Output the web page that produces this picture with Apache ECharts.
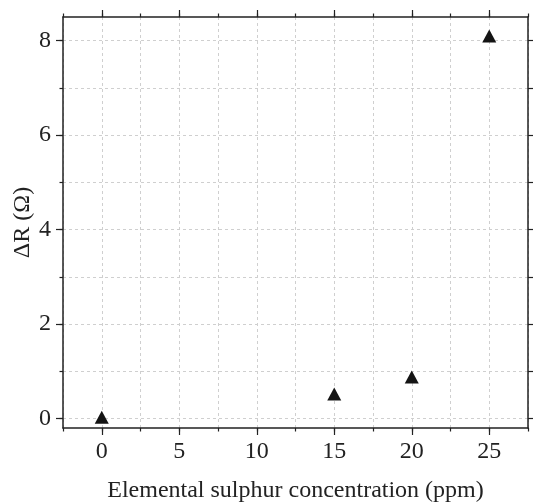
<!DOCTYPE html>
<html>
<head>
<meta charset="utf-8">
<script src="https://cdn.jsdelivr.net/npm/echarts@6/dist/echarts.min.js"></script>
<style>
  html, body { margin: 0; padding: 0; background: #fff; }
  #chart { width: 534px; height: 504px; }
</style>
</head>
<body>
<div id="chart"></div>
<script>
// data
var concentration = [0, 15, 20, 25];
var deltaR = [0.03, 0.52, 0.88, 8.1];

var xMajor = [0, 5, 10, 15, 20, 25];
var yMajor = [0, 2, 4, 6, 8];
var yAll = [0, 1, 2, 3, 4, 5, 6, 7, 8];

var font = '"Liberation Serif", "Times New Roman", serif';
var ink = '#222';

function makePoints() {
  var pts = [];
  for (var i = 0; i < concentration.length; i++) {
    pts.push([concentration[i], deltaR[i]]);
  }
  return pts;
}

var myChart = echarts.init(document.getElementById('chart'));

var xBase = { type: 'value', min: -2.5, max: 27.5, interval: 2.5 };
var yBase = { type: 'value', min: -0.2, max: 8.5 };

var option = {
  backgroundColor: '#fff',
  animation: false,
  grid: { left: 63, top: 17, width: 465, height: 411, outerBoundsMode: 'none' },
  xAxis: [
    // main bottom axis: line, minor ticks, labels, grid
    Object.assign({}, xBase, {
      position: 'bottom',
      name: 'Elemental sulphur concentration (ppm)',
      nameLocation: 'middle',
      nameGap: 51,
      nameTextStyle: { fontFamily: font, fontSize: 24, color: ink },
      axisLine: { onZero: false, lineStyle: { color: ink, width: 1.5 } },
      axisTick: { length: 3.5, lineStyle: { color: ink, width: 1.2 } },
      axisLabel: {
        customValues: xMajor,
        margin: 12,
        fontFamily: font, fontSize: 24, color: ink
      },
      splitLine: { show: true, lineStyle: { color: '#cfcfcf', type: [3, 3], width: 1 } }
    }),
    // bottom major ticks
    Object.assign({}, xBase, {
      position: 'bottom',
      axisLine: { show: false, onZero: false },
      axisTick: { customValues: xMajor, length: 7, lineStyle: { color: ink, width: 1.2 } },
      axisLabel: { show: false },
      splitLine: { show: false }
    }),
    // top axis, minor ticks
    Object.assign({}, xBase, {
      position: 'top',
      axisLine: { onZero: false, lineStyle: { color: ink, width: 1.5 } },
      axisTick: { length: 3.5, lineStyle: { color: ink, width: 1.2 } },
      axisLabel: { show: false },
      splitLine: { show: false }
    }),
    // top major ticks
    Object.assign({}, xBase, {
      position: 'top',
      axisLine: { show: false, onZero: false },
      axisTick: { customValues: xMajor, length: 7, lineStyle: { color: ink, width: 1.2 } },
      axisLabel: { show: false },
      splitLine: { show: false }
    })
  ],
  yAxis: [
    Object.assign({}, yBase, {
      position: 'left',
      name: 'ΔR (Ω)',
      nameLocation: 'middle',
      nameGap: 28,
      nameMoveOverlap: false,
      nameTextStyle: { fontFamily: font, fontSize: 24, color: ink },
      axisLine: { onZero: false, lineStyle: { color: ink, width: 1.5 } },
      axisTick: { customValues: yAll, length: 3.5, lineStyle: { color: ink, width: 1.2 } },
      axisLabel: {
        customValues: yMajor,
        margin: 12,
        fontFamily: font, fontSize: 24, color: ink
      },
      splitLine: { show: true, lineStyle: { color: '#cfcfcf', type: [3, 3], width: 1 } }
    }),
    Object.assign({}, yBase, {
      position: 'left',
      axisLine: { show: false, onZero: false },
      axisTick: { customValues: yMajor, length: 7, lineStyle: { color: ink, width: 1.2 } },
      axisLabel: { show: false },
      splitLine: { show: false }
    }),
    Object.assign({}, yBase, {
      position: 'right',
      axisLine: { onZero: false, lineStyle: { color: ink, width: 1.5 } },
      axisTick: { customValues: yAll, length: 5, lineStyle: { color: ink, width: 1.2 } },
      axisLabel: { show: false },
      splitLine: { show: false }
    })
  ],
  series: [
    {
      type: 'scatter',
      name: 'ΔR',
      xAxisIndex: 0,
      yAxisIndex: 0,
      symbol: 'triangle',
      symbolSize: [14, 13],
      itemStyle: { color: '#141414', opacity: 1 },
      data: makePoints()
    }
  ]
};

myChart.setOption(option);
</script>
</body>
</html>
